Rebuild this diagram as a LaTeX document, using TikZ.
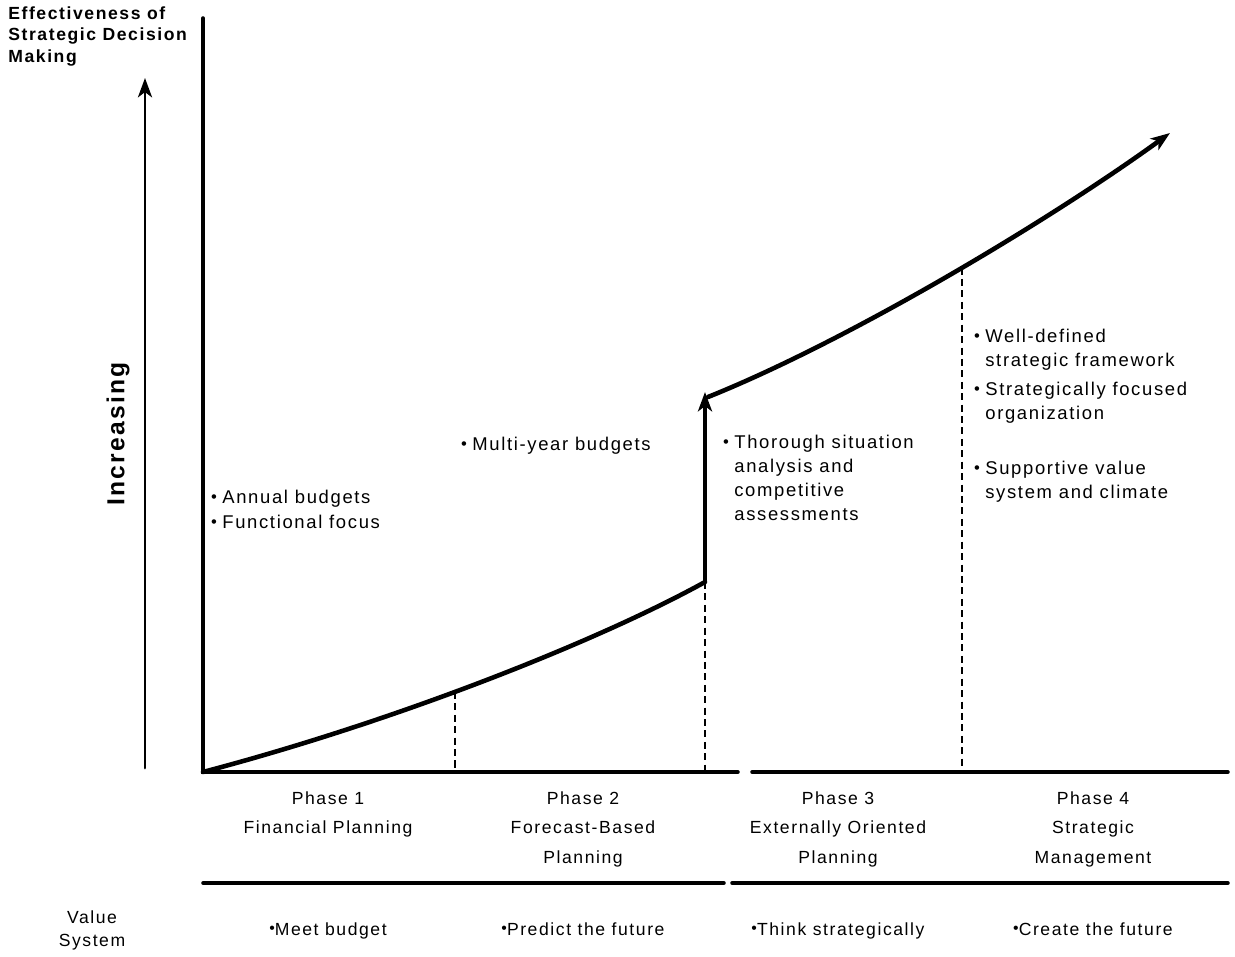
\documentclass[tikz,border=0pt]{standalone}
\usepackage{fontspec}
\setmainfont{Liberation Sans}[LetterSpace=9]
\usetikzlibrary{arrows.meta}

\newcommand\dotmark{\raisebox{0.15ex}{\scalebox{0.9}{•}}}
\newcommand\bul{\llap{\dotmark\hspace{0.3em}}}

\tikzset{
	axis/.style={line width=2pt, line cap=round},
	growth/.style={line width=2.6pt, line cap=round},
	phasemark/.style={line width=1pt, dash pattern=on 4pt off 2.5pt},
	tip/.style={-{Stealth[length=11pt,width=8pt,inset=3pt]}},
	note/.style={anchor=north west, align=left, inner sep=0pt, font=\fontsize{10.5}{13.6}\selectfont},
	phaselbl/.style={anchor=north, align=center, inner sep=0pt, font=\fontsize{10}{17}\selectfont},
	valuelbl/.style={anchor=base, inner sep=0pt, font=\fontsize{10}{13.6}\selectfont},
}

\begin{document}
\begin{tikzpicture}[x=0.02cm, y=-0.02cm]
	\fill[white] (0,0) rectangle (1235,957);
	\useasboundingbox (0,0) rectangle (1235,957);

	% axes
	\coordinate (O) at (203,772);
	\coordinate (Ytop) at (203,18);
	\coordinate (Xa) at (738,772);
	\coordinate (Xb) at (752,772);
	\coordinate (Xend) at (1228,772);
	\draw [axis] (Ytop) -- (O) -- (Xa);
	\draw [axis] (Xb) -- (Xend);

	% rule under the phases
	\coordinate (La) at (203,883);
	\coordinate (Lb) at (724,883);
	\coordinate (Lc) at (732,883);
	\coordinate (Ld) at (1228,883);
	\draw [axis] (La) -- (Lb);
	\draw [axis] (Lc) -- (Ld);

	% increasing arrow
	\coordinate (IncLow) at (145,768);
	\coordinate (IncTop) at (145,78);
	\draw [axis, line width=1.7pt, tip] (IncLow) -- (IncTop);
	\node [rotate=90, font=\bfseries\fontsize{14}{16}\selectfont] (inc) at (118,434) {Increasing};

	\node [anchor=north west, align=left, inner sep=0pt, font=\bfseries\fontsize{10}{12.3}\selectfont] (ylbl) at (8,6)
		{Effectiveness of\\Strategic Decision\\Making};

	% growth curve
	\coordinate (J1) at (705,582);
	\coordinate (J2) at (705,392);
	\coordinate (G2) at (708,397);
	\coordinate (Gend) at (1170,133);
	\draw [growth] (O) .. controls (400,720) and (600,640) .. coordinate[pos=0.437] (D1) (J1);
	\draw [axis, tip] (J1) -- (J2);
	\draw [growth, tip] (G2) .. controls (850,340) and (1050,220) .. coordinate[pos=0.53] (D3) (Gend);

	% phase borders
	\draw [phasemark] (D1) -- (D1 |- O);
	\draw [phasemark] (J1) -- (J1 |- O);
	\draw [phasemark] (D3) -- (D3 |- O);

	% notes
	\node [note] (annual) at (222,490) {\bul Annual budgets};
	\node [note] (functional) at (222,515) {\bul Functional focus};
	\node [note] (multiyear) at (472,437) {\bul Multi-year budgets};
	\node [note] (thorough) at (734,435) {\bul Thorough situation\\analysis and\\competitive\\assessments};
	\node [note] (welldef) at (985,329) {\bul Well-defined\\strategic framework};
	\node [note] (focused) at (985,382) {\bul Strategically focused\\organization};
	\node [note] (supportive) at (985,461) {\bul Supportive value\\system and climate};

	% phases
	\node [phaselbl] (ph1) at (328,791) {Phase 1\\Financial Planning};
	\node [phaselbl] (ph2) at (583,791) {Phase 2\\Forecast-Based\\Planning};
	\node [phaselbl] (ph3) at (838,791) {Phase 3\\Externally Oriented\\Planning};
	\node [phaselbl] (ph4) at (1093,791) {Phase 4\\Strategic\\Management};

	% value system
	\node [anchor=north, align=center, inner sep=0pt, font=\fontsize{10}{13.6}\selectfont] (vs) at (92,910) {Value\\System};
	\node [valuelbl] (v1) at (328,935) {\dotmark Meet budget};
	\node [valuelbl] (v2) at (583,935) {\dotmark Predict the future};
	\node [valuelbl] (v3) at (838,935) {\dotmark Think strategically};
	\node [valuelbl] (v4) at (1093,935) {\dotmark Create the future};
\end{tikzpicture}
\end{document}
